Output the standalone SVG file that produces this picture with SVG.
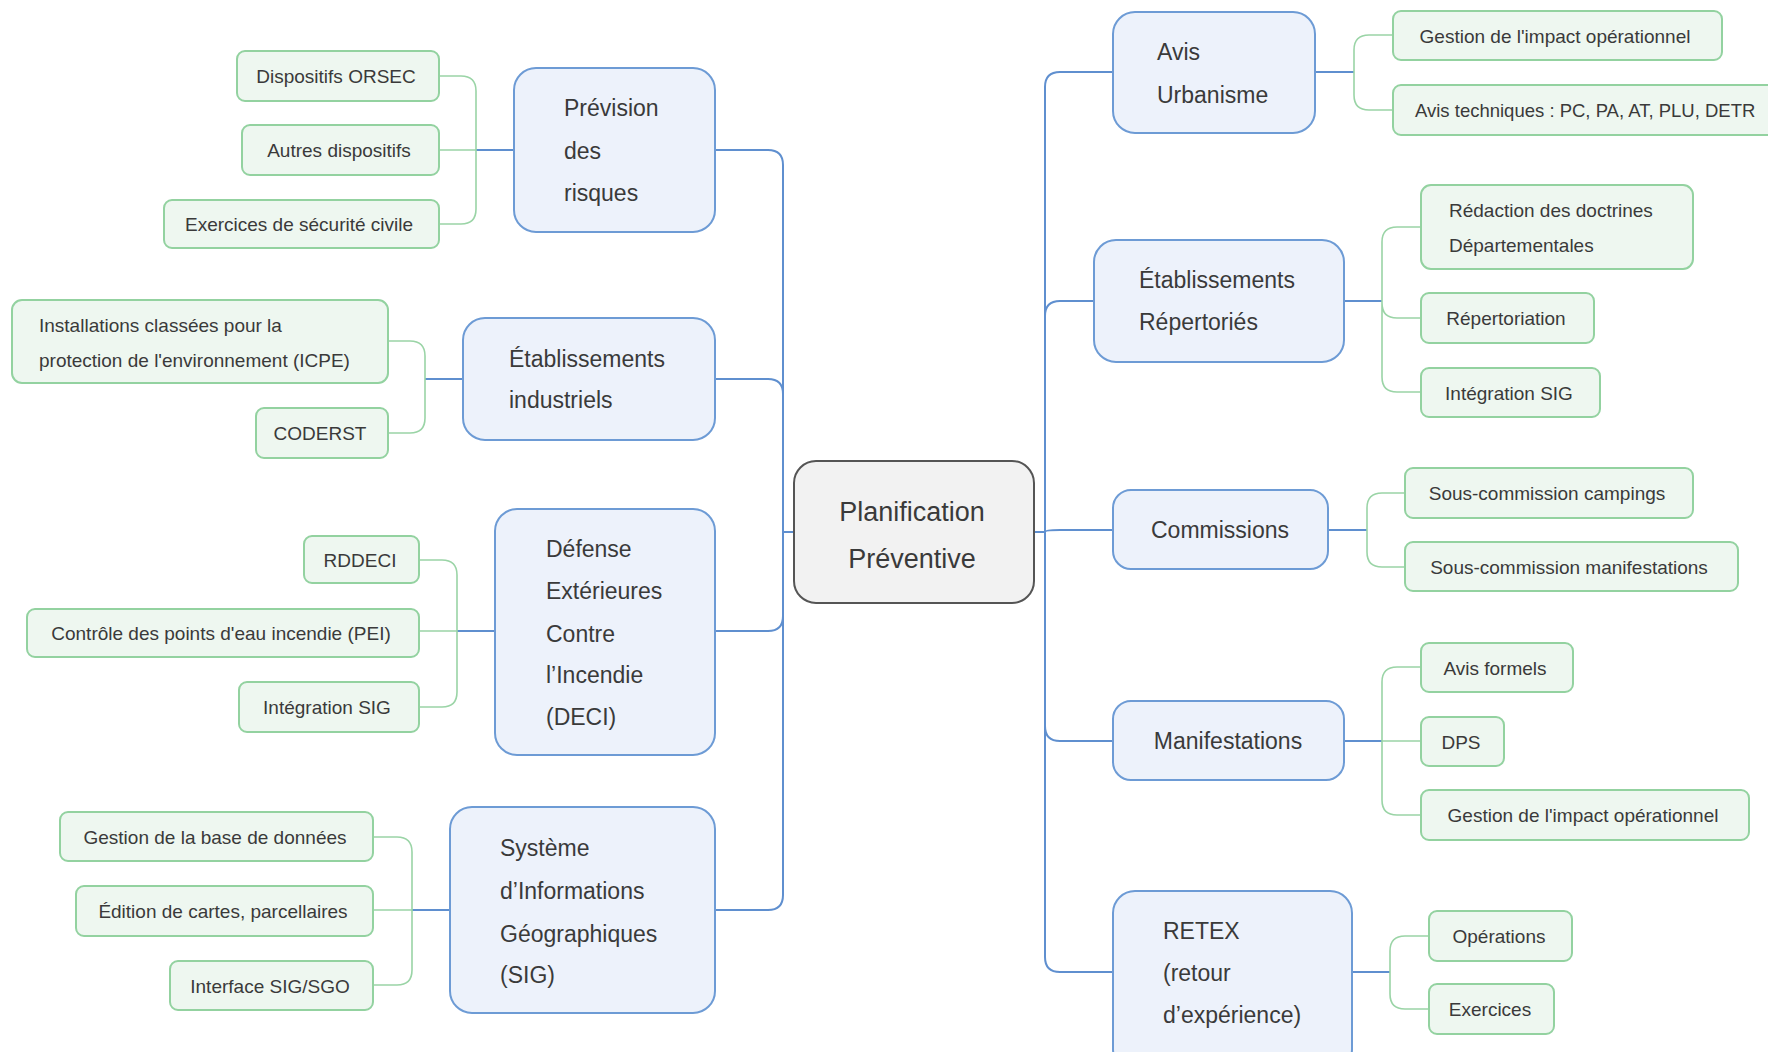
<svg xmlns="http://www.w3.org/2000/svg" width="1768" height="1052" viewBox="0 0 1768 1052">
<style>
text{font-family:"Liberation Sans",Arial,sans-serif;fill:#3a3a3a}
.l1 rect{fill:#edf2fb;stroke:#6d9bd5;stroke-width:2}
.l1 text{font-size:23px}
.l2 rect{fill:#eef7f0;stroke:#93d2a0;stroke-width:2}
.l2 text{font-size:19px}
.c rect{fill:#f2f2f2;stroke:#555;stroke-width:2}
.c text{font-size:27px;text-anchor:middle}
.m{text-anchor:middle}
.b{fill:none;stroke:#5f8fcf;stroke-width:2}
.g{fill:none;stroke:#9ad4a6;stroke-width:1.6}
</style>
<rect width="1768" height="1052" fill="#fff"/>
<g id="connectors">
<path class="b" d="M794 532H783"/>
<path class="b" d="M783 532V165Q783 150 768 150H715"/>
<path class="b" d="M783 532V394Q783 379 768 379H715"/>
<path class="b" d="M783 532V616Q783 631 768 631H715"/>
<path class="b" d="M783 532V895Q783 910 768 910H715"/>
<path class="b" d="M1034 532H1045"/>
<path class="b" d="M1045 532V87Q1045 72 1060 72H1113"/>
<path class="b" d="M1045 532V316Q1045 301 1060 301H1094"/>
<path class="b" d="M1045 532Q1045 530 1060 530H1113"/>
<path class="b" d="M1045 532V726Q1045 741 1060 741H1113"/>
<path class="b" d="M1045 532V957Q1045 972 1060 972H1113"/>
<path class="b" d="M514 150H476"/>
<path class="g" d="M476 150V91Q476 76 461 76H439M476 150H439M476 150V209Q476 224 461 224H439"/>
<path class="b" d="M463 379H425"/>
<path class="g" d="M425 379V356Q425 341 410 341H388M425 379V418Q425 433 410 433H388"/>
<path class="b" d="M495 631H457"/>
<path class="g" d="M457 631V575Q457 560 442 560H419M457 631H419M457 631V692Q457 707 442 707H419"/>
<path class="b" d="M450 910H412"/>
<path class="g" d="M412 910V852Q412 837 397 837H373M412 910H373M412 910V970Q412 985 397 985H373"/>
<path class="b" d="M1315 72H1354"/>
<path class="g" d="M1354 72V50Q1354 35 1369 35H1393M1354 72V95Q1354 110 1369 110H1393"/>
<path class="b" d="M1344 301H1382"/>
<path class="g" d="M1382 301V242Q1382 227 1397 227H1421M1382 301V303Q1382 318 1397 318H1421M1382 301V377Q1382 392 1397 392H1421"/>
<path class="b" d="M1328 530H1367"/>
<path class="g" d="M1367 530V508Q1367 493 1382 493H1405M1367 530V552Q1367 567 1382 567H1405"/>
<path class="b" d="M1344 741H1382"/>
<path class="g" d="M1382 741V682Q1382 667 1397 667H1421M1382 741H1421M1382 741V800Q1382 815 1397 815H1421"/>
<path class="b" d="M1352 972H1390"/>
<path class="g" d="M1390 972V951Q1390 936 1405 936H1429M1390 972V994Q1390 1009 1405 1009H1429"/>
</g>
<g id="central" class="c"><rect x="794" y="461" width="240" height="142" rx="22"/><text x="912" y="521">Planification</text><text x="912" y="568">Préventive</text></g>
<g id="prevision" class="l1"><rect x="514" y="68" width="201" height="164" rx="22"/><text x="564" y="116">Prévision</text><text x="564" y="159">des</text><text x="564" y="201">risques</text></g>
<g id="etab-ind" class="l1"><rect x="463" y="318" width="252" height="122" rx="22"/><text x="509" y="367">Établissements</text><text x="509" y="408">industriels</text></g>
<g id="deci" class="l1"><rect x="495" y="509" width="220" height="246" rx="22"/><text x="546" y="557">Défense</text><text x="546" y="599">Extérieures</text><text x="546" y="642">Contre</text><text x="546" y="683">l’Incendie</text><text x="546" y="725">(DECI)</text></g>
<g id="sig" class="l1"><rect x="450" y="807" width="265" height="206" rx="22"/><text x="500" y="856">Système</text><text x="500" y="899">d’Informations</text><text x="500" y="942">Géographiques</text><text x="500" y="983">(SIG)</text></g>
<g id="avis-urb" class="l1"><rect x="1113" y="12" width="202" height="121" rx="22"/><text x="1157" y="60">Avis</text><text x="1157" y="103">Urbanisme</text></g>
<g id="etab-rep" class="l1"><rect x="1094" y="240" width="250" height="122" rx="22"/><text x="1139" y="288">Établissements</text><text x="1139" y="330">Répertoriés</text></g>
<g id="commissions" class="l1"><rect x="1113" y="490" width="215" height="79" rx="18"/><text class="m" x="1220" y="538">Commissions</text></g>
<g id="manifestations" class="l1"><rect x="1113" y="701" width="231" height="79" rx="18"/><text class="m" x="1228" y="749">Manifestations</text></g>
<g id="retex" class="l1"><rect x="1113" y="891" width="239" height="180" rx="22"/><text x="1163" y="939">RETEX</text><text x="1163" y="981">(retour</text><text x="1163" y="1023">d’expérience)</text></g>
<g id="orsec" class="l2"><rect x="237" y="51" width="202" height="50" rx="8"/><text class="m" x="336" y="83">Dispositifs ORSEC</text></g>
<g id="autres" class="l2"><rect x="242" y="125" width="197" height="50" rx="8"/><text class="m" x="339" y="157">Autres dispositifs</text></g>
<g id="exercices-sc" class="l2"><rect x="164" y="200" width="275" height="48" rx="8"/><text class="m" x="299" y="231">Exercices de sécurité civile</text></g>
<g id="icpe" class="l2"><rect x="12" y="300" width="376" height="83" rx="10"/><text x="39" y="332">Installations classées pour la</text><text x="39" y="367">protection de l'environnement (ICPE)</text></g>
<g id="coderst" class="l2"><rect x="256" y="408" width="132" height="50" rx="8"/><text class="m" x="320" y="440">CODERST</text></g>
<g id="rddeci" class="l2"><rect x="304" y="536" width="115" height="47" rx="8"/><text class="m" x="360" y="567">RDDECI</text></g>
<g id="pei" class="l2"><rect x="27" y="609" width="392" height="48" rx="8"/><text class="m" x="221" y="640">Contrôle des points d'eau incendie (PEI)</text></g>
<g id="integ-sig-l" class="l2"><rect x="239" y="682" width="180" height="50" rx="8"/><text class="m" x="327" y="714">Intégration SIG</text></g>
<g id="gestion-bdd" class="l2"><rect x="60" y="812" width="313" height="49" rx="8"/><text class="m" x="215" y="844">Gestion de la base de données</text></g>
<g id="edition" class="l2"><rect x="76" y="886" width="297" height="50" rx="8"/><text class="m" x="223" y="918">Édition de cartes, parcellaires</text></g>
<g id="interface" class="l2"><rect x="170" y="961" width="203" height="49" rx="8"/><text class="m" x="270" y="993">Interface SIG/SGO</text></g>
<g id="gestion-impact-1" class="l2"><rect x="1393" y="11" width="329" height="49" rx="8"/><text class="m" x="1555" y="43">Gestion de l'impact opérationnel</text></g>
<g id="avis-tech" class="l2"><rect x="1393" y="85" width="390" height="50" rx="8"/><text x="1415" y="117" style="font-size:18.5px">Avis techniques : PC, PA, AT, PLU, DETR</text></g>
<g id="redaction" class="l2"><rect x="1421" y="185" width="272" height="84" rx="10"/><text x="1449" y="217">Rédaction des doctrines</text><text x="1449" y="252">Départementales</text></g>
<g id="repertoriation" class="l2"><rect x="1421" y="293" width="173" height="50" rx="8"/><text class="m" x="1506" y="325">Répertoriation</text></g>
<g id="integ-sig-r" class="l2"><rect x="1421" y="368" width="179" height="49" rx="8"/><text class="m" x="1509" y="400">Intégration SIG</text></g>
<g id="campings" class="l2"><rect x="1405" y="468" width="288" height="50" rx="8"/><text class="m" x="1547" y="500">Sous-commission campings</text></g>
<g id="sc-manif" class="l2"><rect x="1405" y="542" width="333" height="49" rx="8"/><text class="m" x="1569" y="574">Sous-commission manifestations</text></g>
<g id="avis-formels" class="l2"><rect x="1421" y="643" width="152" height="49" rx="8"/><text class="m" x="1495" y="675">Avis formels</text></g>
<g id="dps" class="l2"><rect x="1421" y="717" width="83" height="49" rx="8"/><text class="m" x="1461" y="749">DPS</text></g>
<g id="gestion-impact-2" class="l2"><rect x="1421" y="790" width="328" height="50" rx="8"/><text class="m" x="1583" y="822">Gestion de l'impact opérationnel</text></g>
<g id="operations" class="l2"><rect x="1429" y="911" width="143" height="50" rx="8"/><text class="m" x="1499" y="943">Opérations</text></g>
<g id="exercices" class="l2"><rect x="1429" y="984" width="125" height="50" rx="8"/><text class="m" x="1490" y="1016">Exercices</text></g>
</svg>
